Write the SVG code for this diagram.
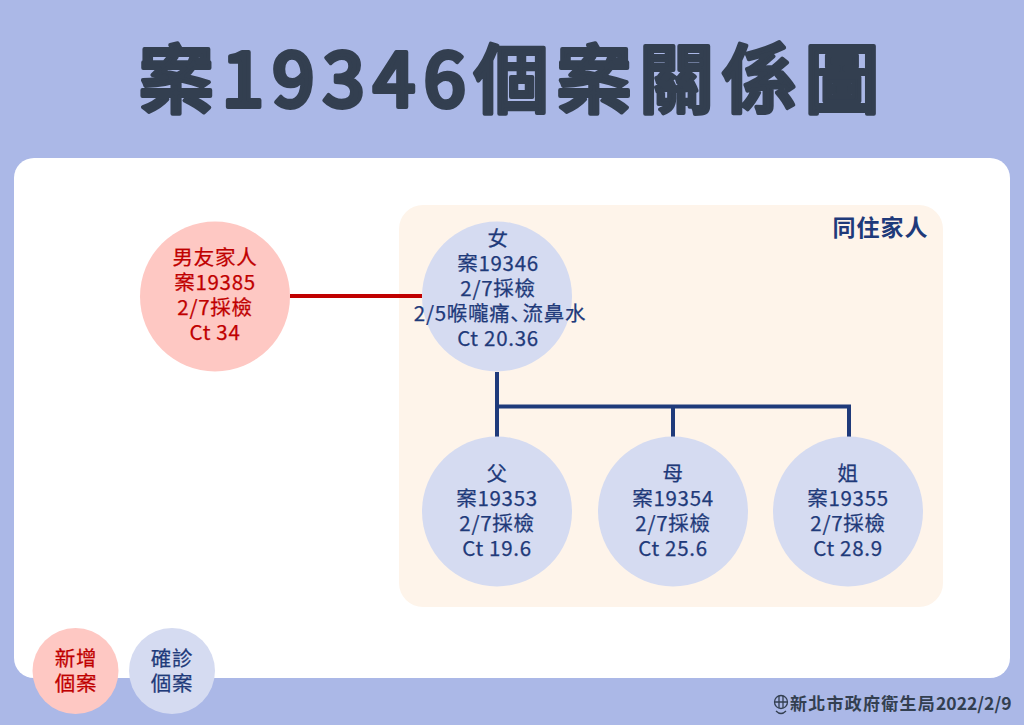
<svg xmlns="http://www.w3.org/2000/svg" width="1024" height="725" viewBox="0 0 1024 725">
<style>
text{font-family:"Noto Sans CJK TC","Noto Sans CJK SC",sans-serif;text-anchor:middle}
.n{font-size:20.500px;fill:#1f3a7a;stroke:#1f3a7a;stroke-width:.25px;letter-spacing:.7px}
.r{font-size:20.500px;fill:#c00000;stroke:#c00000;stroke-width:.25px;letter-spacing:.7px}
.cb{fill:#d5dbf1}
.cr{fill:#fec8c3}
</style>
<rect width="1024" height="725" fill="#abb8e7"/>
<text id="title" x="513" y="107" font-size="75" font-weight="500" fill="#333f50" stroke="#333f50" stroke-width="4" stroke-linejoin="round" stroke-linecap="round" letter-spacing="7.700">案19346個案關係圖</text>
<rect x="14" y="158" width="996" height="520" rx="20" fill="#fff"/>
<rect id="household" x="399" y="205" width="544" height="402" rx="24" fill="#fef4ea"/>
<text x="880.500" y="236" font-size="23" font-weight="700" fill="#1f3a7a" letter-spacing="1">同住家人</text>
<g id="connectors" fill="none" stroke-width="4">
<path d="M290 296H422" stroke="#c00000"/>
<path d="M497 372V437M497 406.500H849V437M673 406.500V437" stroke="#1f3a7a"/>
</g>
<g id="boyfriend"><circle class="cr" cx="215" cy="296.500" r="75"/>
<text class="r"><tspan x="215" y="265">男友家人</tspan><tspan x="215" dy="25">案19385</tspan><tspan x="215" dy="25">2/7採檢</tspan><tspan x="215" dy="25">Ct 34</tspan></text></g>
<g id="female"><circle class="cb" cx="497" cy="296.500" r="75"/>
<text class="n"><tspan x="498" y="246">女</tspan><tspan x="498" dy="25">案19346</tspan><tspan x="498" dy="25">2/7採檢</tspan><tspan x="500" dy="25">2/5喉嚨痛<tspan style="font-family:'Noto Sans CJK SC',sans-serif">、</tspan><tspan dx="-9">流鼻水</tspan></tspan><tspan x="498" dy="25">Ct 20.36</tspan></text></g>
<g id="father"><circle class="cb" cx="497" cy="511.500" r="75"/>
<text class="n"><tspan x="497" y="481">父</tspan><tspan x="497" dy="25">案19353</tspan><tspan x="497" dy="25">2/7採檢</tspan><tspan x="497" dy="25">Ct 19.6</tspan></text></g>
<g id="mother"><circle class="cb" cx="673" cy="511.500" r="75"/>
<text class="n"><tspan x="673" y="481">母</tspan><tspan x="673" dy="25">案19354</tspan><tspan x="673" dy="25">2/7採檢</tspan><tspan x="673" dy="25">Ct 25.6</tspan></text></g>
<g id="sister"><circle class="cb" cx="848" cy="511.500" r="75"/>
<text class="n"><tspan x="848" y="481">姐</tspan><tspan x="848" dy="25">案19355</tspan><tspan x="848" dy="25">2/7採檢</tspan><tspan x="848" dy="25">Ct 28.9</tspan></text></g>
<g id="legend-new"><circle class="cr" cx="75.500" cy="671" r="43"/>
<text class="r"><tspan x="76" y="666">新增</tspan><tspan x="76" dy="25">個案</tspan></text></g>
<g id="legend-confirmed"><circle class="cb" cx="172" cy="671" r="43"/>
<text class="n"><tspan x="172" y="666">確診</tspan><tspan x="172" dy="25">個案</tspan></text></g>
<g id="footer">
<g fill="none" stroke="#333f50" stroke-width="1.300"><circle cx="781" cy="702" r="6.500"/><path d="M779 696V708M783 696V708M775 702H787M776 711Q781 716 786 711"/></g>
<text x="790" y="710" font-size="17" font-weight="700" fill="#333f50" style="text-anchor:start"><tspan letter-spacing="1.250">新北市政府衛生局</tspan><tspan font-size="17.500">2022/2/9</tspan></text></g>
</svg>
